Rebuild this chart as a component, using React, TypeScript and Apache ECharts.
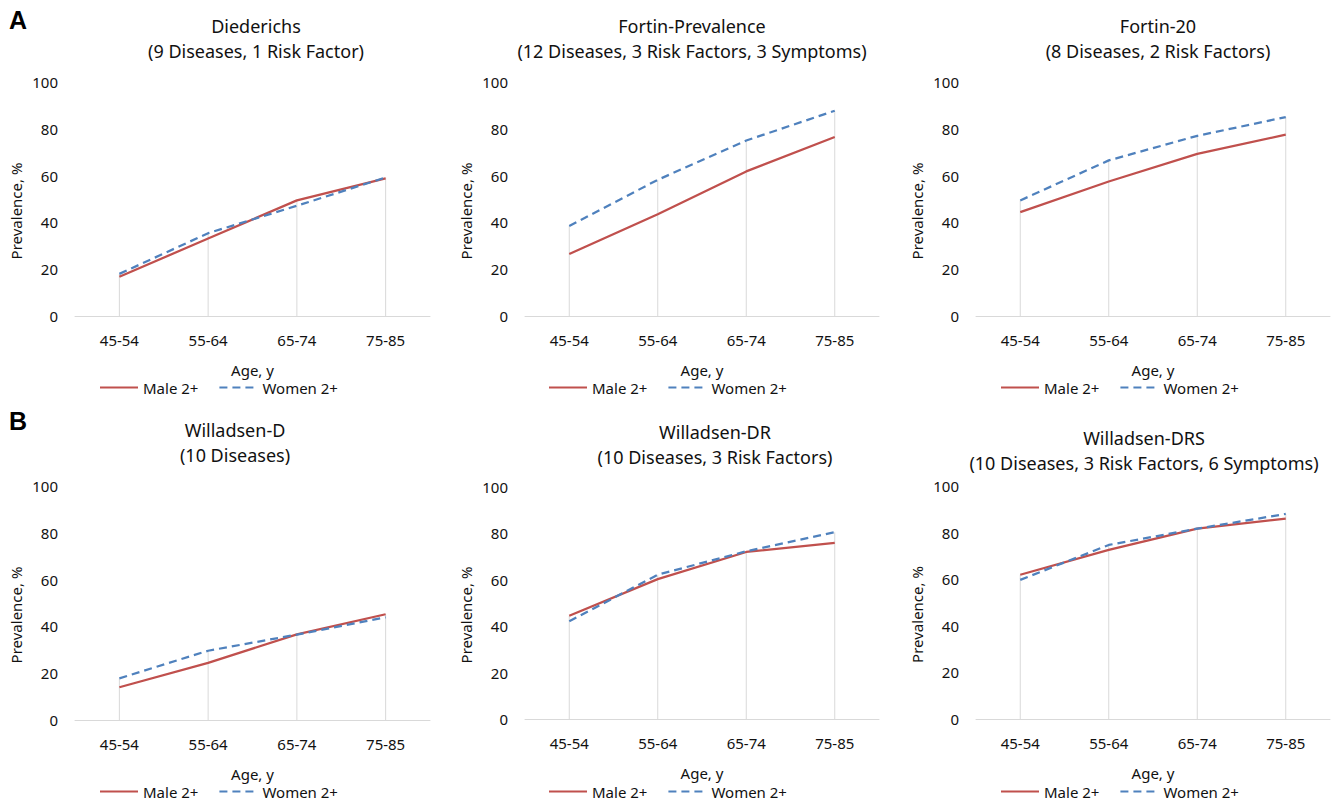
import React, { useEffect, useRef } from "react";
import * as echarts from "echarts";

const categories = ["45-54", "55-64", "65-74", "75-85"];

const panelTitles = [
  "Diederichs\n(9 Diseases, 1 Risk Factor)",
  "Fortin-Prevalence\n(12 Diseases, 3 Risk Factors, 3 Symptoms)",
  "Fortin-20\n(8 Diseases, 2 Risk Factors)",
  "Willadsen-D\n(10 Diseases)",
  "Willadsen-DR\n(10 Diseases, 3 Risk Factors)",
  "Willadsen-DRS\n(10 Diseases, 3 Risk Factors, 6 Symptoms)",
];

const diederichsMale = [16.8, 33.1, 49.4, 58.8];
const diederichsWomen = [18.0, 35.4, 47.1, 59.2];
const fortinPrevMale = [26.5, 43.5, 61.8, 76.5];
const fortinPrevWomen = [38.5, 58.2, 75.0, 87.7];
const fortin20Male = [44.4, 57.5, 69.3, 77.5];
const fortin20Women = [49.4, 66.5, 77.0, 85.0];
const willadsenDMale = [14.0, 24.4, 36.6, 45.2];
const willadsenDWomen = [17.8, 29.6, 36.5, 43.9];
const willadsenDRMale = [44.5, 60.3, 72.0, 75.9];
const willadsenDRWomen = [42.1, 62.2, 72.3, 80.5];
const willadsenDRSMale = [61.9, 72.6, 81.7, 86.0];
const willadsenDRSWomen = [59.7, 74.7, 81.7, 88.0];

const maleSeries = [diederichsMale, fortinPrevMale, fortin20Male, willadsenDMale, willadsenDRMale, willadsenDRSMale];
const womenSeries = [diederichsWomen, fortinPrevWomen, fortin20Women, willadsenDWomen, willadsenDRWomen, willadsenDRSWomen];

const yTicks = { min: 0, max: 100, interval: 20 };

const FONT = "'Noto Sans', 'Open Sans', sans-serif";
const RED = "#C0504D";
const BLUE = "#4F81BD";
const GRAY = "#D9D9D9";
const TEXT = "#111111";

// layout (positions/sizes)
const grids = [
  { left: 75, top: 82, width: 355, height: 234 },
  { left: 525, top: 82, width: 354, height: 234 },
  { left: 976, top: 82, width: 354, height: 234 },
  { left: 75, top: 486, width: 355, height: 234 },
  { left: 525, top: 487, width: 354, height: 232 },
  { left: 976, top: 486, width: 354, height: 233 },
];
const titlePos = [
  { x: 256, y: 13 },
  { x: 692, y: 13 },
  { x: 1158, y: 13 },
  { x: 235, y: 417 },
  { x: 715, y: 419 },
  { x: 1144, y: 425 },
];
const legendPos = [
  { left: 99, top: 380 },
  { left: 548, top: 380 },
  { left: 1000, top: 380 },
  { left: 99, top: 784 },
  { left: 548, top: 784 },
  { left: 1000, top: 784 },
];

export default function App() {
  const ref = useRef<HTMLDivElement>(null);
  useEffect(() => {
    if (!ref.current) return;
    const chart = echarts.init(ref.current, null, { renderer: "svg" });
    const series: any[] = [];
    maleSeries.forEach((m, i) => {
      const w = womenSeries[i];
      series.push({
        type: "bar",
        name: "drop",
        xAxisIndex: i,
        yAxisIndex: i,
        barWidth: 1,
        silent: true,
        itemStyle: { color: GRAY },
        data: m.map((v, k) => Math.max(v, w[k])),
        z: 1,
      });
      series.push({
        type: "line",
        name: "Male 2+",
        xAxisIndex: i,
        yAxisIndex: i,
        symbol: "none",
        lineStyle: { color: RED, width: 2.25 },
        itemStyle: { color: RED },
        data: m,
        z: 3,
      });
      series.push({
        type: "line",
        name: "Women 2+",
        xAxisIndex: i,
        yAxisIndex: i,
        symbol: "none",
        lineStyle: { color: BLUE, width: 2.25, type: [8, 5] },
        itemStyle: { color: BLUE },
        data: w,
        z: 4,
      });
    });

    const option: any = {
      animation: false,
      textStyle: { fontFamily: FONT },
      title: panelTitles.map((t, i) => ({
        text: t,
        left: titlePos[i].x,
        top: titlePos[i].y,
        textAlign: "center",
        padding: 0,
        textStyle: { fontFamily: FONT, fontSize: 18, fontWeight: "normal", color: TEXT, lineHeight: 25 },
      })),
      graphic: [
        { type: "text", left: 9, top: 7, style: { text: "A", font: "bold 25px Arial, 'Liberation Sans', sans-serif", fill: "#000" } },
        { type: "text", left: 9, top: 408, style: { text: "B", font: "bold 25px Arial, 'Liberation Sans', sans-serif", fill: "#000" } },
      ],
      legend: legendPos.map((p) => ({
        data: ["Male 2+", "Women 2+"],
        left: p.left,
        top: p.top,
        padding: 0,
        itemWidth: 38,
        itemHeight: 14,
        itemGap: 20,
        selectedMode: false,
        itemStyle: { opacity: 0 },
        textStyle: { fontFamily: FONT, fontSize: 15, color: TEXT },
      })),
      grid: grids.map((g) => ({ ...g, containLabel: false })),
      xAxis: grids.map((_, i) => ({
        type: "category",
        gridIndex: i,
        data: categories,
        boundaryGap: true,
        name: "Age, y",
        nameLocation: "middle",
        nameGap: 46,
        nameTextStyle: { fontFamily: FONT, fontSize: 15, color: TEXT },
        axisLine: { lineStyle: { color: GRAY, width: 1 } },
        axisTick: { show: false },
        axisLabel: { fontFamily: FONT, fontSize: 15, color: TEXT, margin: 16 },
        splitLine: { show: false },
      })),
      yAxis: grids.map((_, i) => ({
        type: "value",
        gridIndex: i,
        min: yTicks.min,
        max: yTicks.max,
        interval: yTicks.interval,
        name: "Prevalence, %",
        nameLocation: "middle",
        nameGap: 52,
        nameTextStyle: { fontFamily: FONT, fontSize: 15, color: TEXT, padding: [0, 24, 0, 0] },
        axisLine: { show: false },
        axisTick: { show: false },
        axisLabel: { fontFamily: FONT, fontSize: 15, color: TEXT, margin: 17 },
        splitLine: { show: false },
      })),
      series,
    };
    chart.setOption(option);
    return () => chart.dispose();
  }, []);
  return (
    <div
      ref={ref}
      style={{ position: "fixed", left: 0, top: 0, width: 1336, height: 803, background: "#fff" }}
    />
  );
}
